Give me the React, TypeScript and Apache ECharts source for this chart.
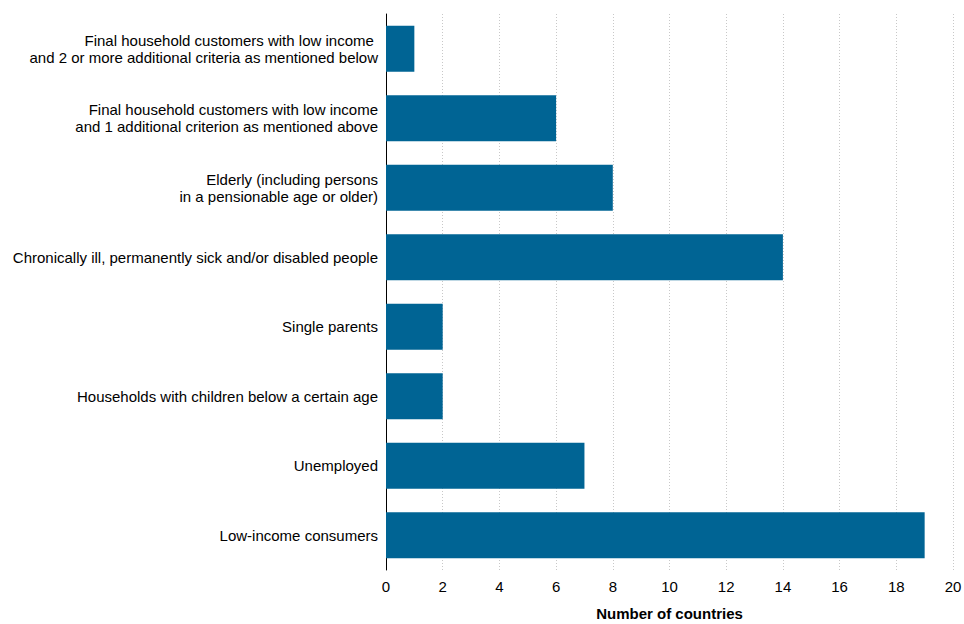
import React, { useEffect, useRef } from "react";
import * as echarts from "echarts";

const categories = [
  "Low-income consumers",
  "Unemployed",
  "Households with children below a certain age",
  "Single parents",
  "Chronically ill, permanently sick and/or disabled people",
  "Elderly (including persons\nin a pensionable age or older)",
  "Final household customers with low income\nand 1 additional criterion as mentioned above",
  "Final household customers with low income \nand 2 or more additional criteria as mentioned below",
];
const values = [19, 7, 2, 2, 14, 8, 6, 1];
const xTicks = [0, 2, 4, 6, 8, 10, 12, 14, 16, 18, 20];

const FONT = "'Liberation Sans Narrow', 'Arial Narrow', 'Liberation Sans', Arial, sans-serif";

export default function App() {
  const ref = useRef<HTMLDivElement>(null);
  useEffect(() => {
    if (!ref.current) return;
    const chart = echarts.init(ref.current, undefined, { renderer: "svg" });
    chart.setOption({
      animation: false,
      grid: { left: 386, right: 11, top: 14, bottom: 54, containLabel: false, outerBoundsMode: "none" },
      xAxis: {
        type: "value",
        min: xTicks[0],
        max: xTicks[xTicks.length - 1],
        interval: 2,
        name: "Number of countries",
        nameLocation: "middle",
        nameGap: 36,
        nameTextStyle: { fontFamily: FONT, fontSize: 15, fontWeight: "bold", color: "#000" },
        axisLine: { show: false },
        axisTick: { show: false },
        axisLabel: { fontFamily: FONT, fontSize: 15, color: "#000", margin: 9 },
        splitLine: { show: true, lineStyle: { color: "#c8c8c8", type: [1, 2], width: 1 } },
      },
      yAxis: {
        type: "category",
        data: categories,
        axisLine: { show: true, lineStyle: { color: "#000", width: 1 } },
        axisTick: { show: false },
        axisLabel: {
          fontFamily: FONT,
          fontSize: 15,
          color: "#000",
          margin: 8,
          lineHeight: 17,
          align: "right",
          padding: [0, 0, 4, 0],
        },
      },
      series: [
        {
          type: "bar",
          data: values,
          barCategoryGap: "34%",
          itemStyle: { color: "#006494" },
        },
      ],
    });
    return () => chart.dispose();
  }, []);
  return (
    <div
      ref={ref}
      style={{ position: "absolute", left: 0, top: 0, width: 964, height: 624 }}
    />
  );
}
